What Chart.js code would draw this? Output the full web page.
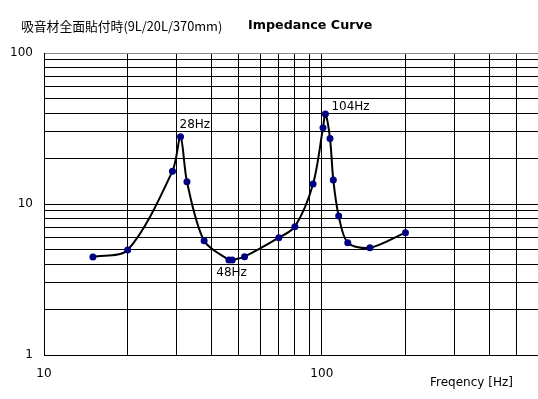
<!DOCTYPE html>
<html>
<head>
<meta charset="utf-8">
<script src="https://cdn.jsdelivr.net/npm/chart.js@4/dist/chart.umd.min.js"></script>
<style>
html,body{margin:0;padding:0;background:#fff;}
#wrap{width:538px;height:399px;}
</style>
</head>
<body>
<div id="wrap"><canvas id="c" width="538" height="399"></canvas></div>
<script>
// Data
const frequencies = [15, 20, 29, 31, 32.7, 37.7, 46.3, 47.6, 52.7, 70, 80, 93, 101, 103, 107, 110, 115, 124, 149, 200];
const impedance   = [4.46, 4.96, 16.5, 27.9, 14.05, 5.71, 4.26, 4.26, 4.48, 5.98, 7.08, 13.57, 32, 39.4, 27.2, 14.4, 8.33, 5.54, 5.13, 6.46];
const xTickValues = [10, 20, 30, 40, 50, 60, 70, 80, 90, 100, 200, 300, 400, 500, 600];
const xTickLabels = ['10', '100'];
const yTickValues = [1, 2, 3, 4, 5, 6, 7, 8, 9, 10, 20, 30, 40, 50, 60, 70, 80, 90, 100];
const yTickLabels = ['1', '10', '100'];
const peakLabels = [
  {index: 3, text: '28Hz', dx: -1, dy: -12},
  {index: 13, text: '104Hz', dx: 6, dy: -7},
  {index: 7, text: '48Hz', dx: -16, dy: 13}
];
const titleText = '吸音材全面貼付時(9L/20L/370mm)';
const subTitleText = 'Impedance Curve';
const xAxisTitle = 'Freqency [Hz]';

const points = frequencies.map((f, i) => ({x: f, y: impedance[i]}));

const textPlugin = {
  id: 'texts',
  afterDraw(chart) {
    const ctx = chart.ctx;
    const xs = chart.scales.x, ys = chart.scales.y;
    ctx.save();
    ctx.fillStyle = '#000';
    ctx.textBaseline = 'middle';
    ctx.textAlign = 'left';
    ctx.font = '12.8px "Noto Sans CJK JP"';
    ctx.fillText(titleText, 21, 26);
    ctx.font = 'bold 12.7px "DejaVu Sans"';
    ctx.fillText(subTitleText, 248, 26);
    ctx.font = '12px "DejaVu Sans"';
    ctx.fillText(xAxisTitle, 430, 383);
    peakLabels.forEach(p => {
      const px = xs.getPixelForValue(frequencies[p.index]);
      const py = ys.getPixelForValue(impedance[p.index]);
      ctx.fillText(p.text, px + p.dx, py + p.dy);
    });
    ctx.restore();
  }
};

new Chart(document.getElementById('c'), {
  type: 'line',
  data: {
    datasets: [{
      data: points,
      borderColor: '#000',
      borderWidth: 2,
      tension: 0.3,
      pointRadius: 3.5,
      pointBackgroundColor: '#000080',
      pointBorderColor: '#000080',
      pointBorderWidth: 0,
      fill: false
    }]
  },
  options: {
    responsive: false,
    animation: false,
    devicePixelRatio: 1,
    layout: {autoPadding: false, padding: {top: 53, left: 0, right: 0, bottom: 0}},
    plugins: {legend: {display: false}, tooltip: {enabled: false}},
    scales: {
      x: {
        type: 'logarithmic',
        min: 10, max: 600,
        afterBuildTicks: s => { s.ticks = xTickValues.map(v => ({value: v})); },
        afterFit: s => { s.height = 44; s.paddingLeft = 0; s.paddingRight = 0; },
        ticks: {
          autoSkip: false, maxRotation: 0, padding: 12,
          color: '#000', font: {family: 'DejaVu Sans', size: 12},
          callback: v => xTickLabels.includes(String(v)) ? String(v) : ''
        },
        grid: {
          drawTicks: false,
          lineWidth: 1,
          color: c => (c.tick && c.tick.value === 600) ? 'rgba(0,0,0,0)' : '#000'
        },
        border: {display: true, color: '#000', width: 1}
      },
      y: {
        type: 'logarithmic',
        min: 1, max: 100,
        afterBuildTicks: s => { s.ticks = yTickValues.map(v => ({value: v})); },
        afterFit: s => { s.width = 44; s.paddingTop = 0; s.paddingBottom = 0; },
        ticks: {
          autoSkip: false, padding: 11,
          color: '#000', font: {family: 'DejaVu Sans', size: 12},
          callback: v => yTickLabels.includes(String(v)) ? String(v) : ''
        },
        grid: {
          drawTicks: false,
          lineWidth: 1,
          color: c => (c.tick && c.tick.value === 100) ? '#888' : '#000'
        },
        border: {display: true, color: '#000', width: 1}
      }
    }
  },
  plugins: [textPlugin]
});
</script>
</body>
</html>
